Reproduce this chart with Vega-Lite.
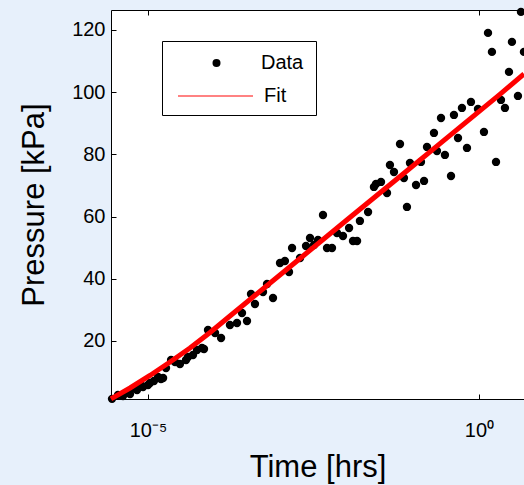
{
"$schema":"https://vega.github.io/schema/vega-lite/v6.json",
"width":413,"height":389,
"autosize":{"type":"none"},
"padding":{"left":111,"top":10,"right":0,"bottom":86},
"background":"#e7f0fb",
"config":{"font":"Liberation Sans","view":{"fill":"white","stroke":"black","strokeWidth":1},
 "axis":{"grid":false,"domainColor":"black","tickColor":"black","labelColor":"black","titleColor":"black","labelFontSize":20,"titleFontSize":31,"titleFontWeight":"normal","tickSize":-5,"domainWidth":1},
 "legend":{"labelFontSize":20,"labelColor":"black","titleColor":"black"}},
"datasets":{
"pts":[
{"time":2.86e-6,"pressure":1.4,"series":"Data"},
{"time":3.52e-6,"pressure":2.64,"series":"Data"},
{"time":4.19e-6,"pressure":2.32,"series":"Data"},
{"time":4.99e-6,"pressure":3.60,"series":"Data"},
{"time":5.35e-6,"pressure":2.96,"series":"Data"},
{"time":6.36e-6,"pressure":4.89,"series":"Data"},
{"time":6.82e-6,"pressure":4.24,"series":"Data"},
{"time":7.84e-6,"pressure":5.85,"series":"Data"},
{"time":8.40e-6,"pressure":5.21,"series":"Data"},
{"time":1.00e-5,"pressure":5.85,"series":"Data"},
{"time":1.07e-5,"pressure":6.50,"series":"Data"},
{"time":1.23e-5,"pressure":7.14,"series":"Data"},
{"time":1.42e-5,"pressure":8.42,"series":"Data"},
{"time":1.57e-5,"pressure":7.78,"series":"Data"},
{"time":1.69e-5,"pressure":8.10,"series":"Data"},
{"time":1.87e-5,"pressure":11.32,"series":"Data"},
{"time":2.23e-5,"pressure":13.89,"series":"Data"},
{"time":2.56e-5,"pressure":13.25,"series":"Data"},
{"time":3.04e-5,"pressure":12.60,"series":"Data"},
{"time":3.75e-5,"pressure":13.89,"series":"Data"},
{"time":4.02e-5,"pressure":14.86,"series":"Data"},
{"time":4.78e-5,"pressure":15.50,"series":"Data"},
{"time":5.50e-5,"pressure":17.11,"series":"Data"},
{"time":6.54e-5,"pressure":17.75,"series":"Data"},
{"time":7.01e-5,"pressure":17.43,"series":"Data"},
{"time":8.06e-5,"pressure":23.54,"series":"Data"},
{"time":1.03e-4,"pressure":22.57,"series":"Data"},
{"time":1.27e-4,"pressure":20.96,"series":"Data"},
{"time":1.73e-4,"pressure":25.14,"series":"Data"},
{"time":2.21e-4,"pressure":25.79,"series":"Data"},
{"time":2.63e-4,"pressure":29.00,"series":"Data"},
{"time":3.13e-4,"pressure":26.43,"series":"Data"},
{"time":3.60e-4,"pressure":35.11,"series":"Data"},
{"time":4.13e-4,"pressure":31.90,"series":"Data"},
{"time":5.46e-4,"pressure":35.76,"series":"Data"},
{"time":6.28e-4,"pressure":38.33,"series":"Data"},
{"time":7.73e-4,"pressure":33.83,"series":"Data"},
{"time":9.86e-4,"pressure":45.08,"series":"Data"},
{"time":1.17e-3,"pressure":45.72,"series":"Data"},
{"time":1.35e-3,"pressure":42.19,"series":"Data"},
{"time":1.50e-3,"pressure":49.90,"series":"Data"},
{"time":1.98e-3,"pressure":46.69,"series":"Data"},
{"time":2.44e-3,"pressure":50.55,"series":"Data"},
{"time":2.80e-3,"pressure":53.12,"series":"Data"},
{"time":3.22e-3,"pressure":50.87,"series":"Data"},
{"time":3.70e-3,"pressure":52.48,"series":"Data"},
{"time":4.40e-3,"pressure":60.51,"series":"Data"},
{"time":5.06e-3,"pressure":49.90,"series":"Data"},
{"time":6.02e-3,"pressure":49.90,"series":"Data"},
{"time":7.16e-3,"pressure":54.73,"series":"Data"},
{"time":8.82e-3,"pressure":53.76,"series":"Data"},
{"time":1.09e-2,"pressure":56.33,"series":"Data"},
{"time":1.25e-2,"pressure":52.15,"series":"Data"},
{"time":1.44e-2,"pressure":52.15,"series":"Data"},
{"time":1.59e-2,"pressure":58.59,"series":"Data"},
{"time":2.11e-2,"pressure":61.48,"series":"Data"},
{"time":2.59e-2,"pressure":69.52,"series":"Data"},
{"time":2.78e-2,"pressure":70.48,"series":"Data"},
{"time":3.31e-2,"pressure":71.13,"series":"Data"},
{"time":4.08e-2,"pressure":67.59,"series":"Data"},
{"time":4.52e-2,"pressure":76.59,"series":"Data"},
{"time":5.20e-2,"pressure":74.34,"series":"Data"},
{"time":6.41e-2,"pressure":83.34,"series":"Data"},
{"time":7.36e-2,"pressure":72.41,"series":"Data"},
{"time":8.17e-2,"pressure":63.09,"series":"Data"},
{"time":9.07e-2,"pressure":77.23,"series":"Data"},
{"time":0.112,"pressure":70.16,"series":"Data"},
{"time":0.133,"pressure":77.56,"series":"Data"},
{"time":0.148,"pressure":71.45,"series":"Data"},
{"time":0.164,"pressure":82.38,"series":"Data"},
{"time":0.209,"pressure":86.88,"series":"Data"},
{"time":0.232,"pressure":81.09,"series":"Data"},
{"time":0.267,"pressure":91.70,"series":"Data"},
{"time":0.306,"pressure":79.81,"series":"Data"},
{"time":0.378,"pressure":73.05,"series":"Data"},
{"time":0.419,"pressure":92.67,"series":"Data"},
{"time":0.482,"pressure":85.27,"series":"Data"},
{"time":0.553,"pressure":94.92,"series":"Data"},
{"time":0.659,"pressure":82.06,"series":"Data"},
{"time":0.757,"pressure":96.85,"series":"Data"},
{"time":0.966,"pressure":94.60,"series":"Data"},
{"time":1.19,"pressure":87.20,"series":"Data"},
{"time":1.37,"pressure":119.04,"series":"Data"},
{"time":1.57,"pressure":112.93,"series":"Data"},
{"time":1.81,"pressure":77.56,"series":"Data"},
{"time":2.15,"pressure":97.49,"series":"Data"},
{"time":2.47,"pressure":94.92,"series":"Data"},
{"time":2.84,"pressure":106.50,"series":"Data"},
{"time":3.15,"pressure":116.14,"series":"Data"},
{"time":3.88,"pressure":98.78,"series":"Data"},
{"time":4.31,"pressure":125.79,"series":"Data"},
{"time":4.78,"pressure":112.93,"series":"Data"}
],
"fit":[
{"time":2.76e-6,"pressure":1.4,"series":"Fit"},
{"time":5.35e-6,"pressure":4.89,"series":"Fit"},
{"time":1.07e-5,"pressure":8.91,"series":"Fit"},
{"time":2.15e-5,"pressure":13.25,"series":"Fit"},
{"time":4.31e-5,"pressure":17.75,"series":"Fit"},
{"time":8.65e-5,"pressure":22.73,"series":"Fit"},
{"time":1.73e-4,"pressure":28.04,"series":"Fit"},
{"time":3.48e-4,"pressure":33.34,"series":"Fit"},
{"time":1.98e-3,"pressure":46.53,"series":"Fit"},
{"time":1.12e-2,"pressure":59.71,"series":"Fit"},
{"time":6.41e-2,"pressure":72.89,"series":"Fit"},
{"time":0.365,"pressure":86.08,"series":"Fit"},
{"time":2.07,"pressure":99.26,"series":"Fit"},
{"time":4.79,"pressure":105.85,"series":"Fit"}
]},
"layer":[
{"data":{"name":"pts"},
 "mark":{"type":"point","filled":true,"size":70,"opacity":1,"shape":"circle"},
 "encoding":{
  "x":{"field":"time","type":"quantitative","scale":{"type":"log","domain":[2.76e-6,4.79],"nice":false},
   "axis":{"orient":"bottom","values":[0.00001,1],"labelExpr":"datum.value < 0.01 ? '10⁻⁵' : '10⁰'","title":"Time [hrs]","labelPadding":26,"titlePadding":12,"domain":false}},
  "y":{"field":"pressure","type":"quantitative","scale":{"domain":[1.35,126.4],"nice":false,"zero":false},
   "axis":{"values":[20,40,60,80,100,120],"title":"Pressure [kPa]","labelPadding":11,"titlePadding":21,"domain":false}},
  "color":{"field":"series","type":"nominal","scale":{"domain":["Data"],"range":["black"]},
   "legend":{"orient":"none","legendX":51,"legendY":31,"title":"                         ","titleOrient":"bottom","titleFontSize":20,"titlePadding":10,"fillColor":"white","strokeColor":"black","padding":12,"symbolType":"circle","symbolSize":64,"symbolOffset":32.5,"labelOffset":34.5}}
 }},
{"data":{"name":"fit"},
 "mark":{"type":"line","strokeWidth":5},
 "encoding":{
  "x":{"field":"time","type":"quantitative","scale":{"type":"log","domain":[2.76e-6,4.79],"nice":false},
   "axis":{"orient":"top","values":[0.00001,1],"labels":false,"title":null,"domain":false}},
  "y":{"field":"pressure","type":"quantitative"},
  "stroke":{"field":"series","type":"nominal","scale":{"domain":["Fit"],"range":["#ff0000"]},
   "legend":{"orient":"none","legendX":66,"legendY":47.5,"title":null,"padding":0,"symbolType":"stroke","symbolSize":5625,"symbolStrokeWidth":1.5,"symbolOpacity":0.65,"labelOffset":10}}
 }}
],
"resolve":{"axis":{"x":"independent"}}
}
